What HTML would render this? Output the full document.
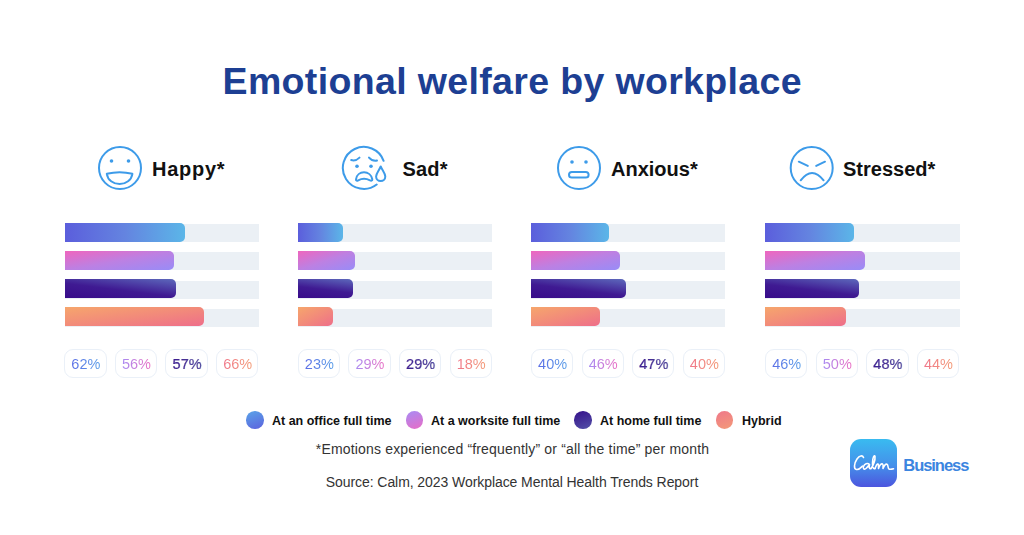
<!DOCTYPE html>
<html><head><meta charset="utf-8">
<style>
*{margin:0;padding:0;box-sizing:border-box}
html,body{width:1024px;height:535px;background:#fff;overflow:hidden}
body{position:relative;font-family:"Liberation Sans",sans-serif;}
.abs{position:absolute}
#title{left:0;width:1024.5px;top:59.4px;text-align:center;font-size:37.5px;font-weight:bold;color:#1d3f93;line-height:44px;white-space:nowrap;letter-spacing:0.35px}
.hd{font-size:20px;font-weight:bold;color:#111;line-height:24px;white-space:nowrap;top:157px}
.track{height:18.2px;width:194.3px;background:#ebf0f5}
.bar{height:19px;border-radius:0 5px 5px 0}
.b1{background:linear-gradient(90deg,#5b5edc 0%,#6484e0 50%,#5bb6e8 100%)}
.b2{background:linear-gradient(to bottom right,#ef66be 0%,#bd80e2 50%,#988cf7 100%)}
.b3{background:linear-gradient(7deg,#380c8a 0%,#3f1a92 45%,#5d69bc 100%)}
.b4{background:linear-gradient(to bottom right,#f6a66c 0%,#f28b7a 50%,#ee6e8a 100%)}
.pill{width:42.4px;height:29.4px;border:1px solid #eaf0f8;border-radius:9px;top:349px;text-align:center;font-size:14.5px;line-height:29.6px;background:#fff;padding-left:1px}
.pill span{-webkit-background-clip:text;background-clip:text;color:transparent}
.p1 span{background-image:linear-gradient(90deg,#5c6ee6,#5a9ee8)}
.p2 span{background-image:linear-gradient(90deg,#a88af2,#ea70c4)}
.p3 span{background-image:linear-gradient(90deg,#3b1a8e,#56509e);-webkit-text-stroke:0.15px #46339a}
.p4 span{background-image:linear-gradient(90deg,#f0768a,#f39a76)}
.dot{width:17.6px;height:17.6px;border-radius:50%;top:411.3px}
.lg{font-size:12.5px;font-weight:bold;color:#111;top:412.8px;line-height:16px;white-space:nowrap}
.ft{font-size:14px;color:#333;left:0;width:1024px;text-align:center;white-space:nowrap;line-height:18px}
</style></head><body>
<div id="title" class="abs">Emotional welfare by workplace</div>

<!-- icons -->
<svg class="abs" style="left:96px;top:144px" width="48" height="48" viewBox="96 144 48 48" fill="none" stroke="#3d9be9" stroke-width="2" stroke-linecap="round" stroke-linejoin="round">
<circle cx="120" cy="168" r="21"/>
<circle cx="111.5" cy="161" r="1.8" fill="#3d9be9" stroke="none"/>
<circle cx="128.5" cy="161" r="1.8" fill="#3d9be9" stroke="none"/>
<path d="M106.8 173.8 Q119.6 170.6 132.4 173.8 C131.5 180 126 184 119.6 184 C113.2 184 107.7 180 106.8 173.8 Z"/>
</svg>
<div class="abs hd" style="left:152px;letter-spacing:0.75px">Happy*</div>

<svg class="abs" style="left:340px;top:144px" width="48" height="48" viewBox="340 144 48 48" fill="none" stroke="#3d9be9" stroke-width="2" stroke-linecap="round" stroke-linejoin="round">
<path d="M383.6 160.8 A21 21 0 1 0 376.7 184.5"/>
<path d="M351.2 160 Q355.5 161.5 359.5 157.6"/>
<path d="M369 157.6 Q372.5 161.5 377 160.6"/>
<circle cx="357" cy="166.3" r="1.8" fill="#3d9be9" stroke="none"/>
<circle cx="371" cy="166.3" r="1.8" fill="#3d9be9" stroke="none"/>
<path d="M356 179.3 C356.5 175 360 172.3 364 172.3 C368 172.3 371.5 175 372.3 179.3 C372.5 180.8 371 181 370 180.3 C366 178.2 362 178.2 358.2 180.3 C357 181 355.8 180.8 356 179.3 Z"/>
<path d="M380.7 166.5 C382.5 170.5 385.3 173.5 385.3 176.5 A4.6 4.6 0 0 1 376.1 176.5 C376.1 173.5 379 170.5 380.7 166.5 Z"/>
</svg>
<div class="abs hd" style="left:402.5px;letter-spacing:0.2px">Sad*</div>

<svg class="abs" style="left:555px;top:144px" width="48" height="48" viewBox="555 144 48 48" fill="none" stroke="#3d9be9" stroke-width="2" stroke-linecap="round" stroke-linejoin="round">
<circle cx="579" cy="168" r="21"/>
<circle cx="572" cy="162" r="1.8" fill="#3d9be9" stroke="none"/>
<circle cx="586" cy="162" r="1.8" fill="#3d9be9" stroke="none"/>
<rect x="569" y="171.9" width="19.6" height="5.7" rx="2.85"/>
</svg>
<div class="abs hd" style="left:611px">Anxious*</div>

<svg class="abs" style="left:788px;top:144px" width="48" height="48" viewBox="788 144 48 48" fill="none" stroke="#3d9be9" stroke-width="2" stroke-linecap="round" stroke-linejoin="round">
<circle cx="811.7" cy="168" r="21"/>
<path d="M798.8 161.7 L807.8 165.9"/>
<path d="M816.2 165.9 L825 161.7"/>
<path d="M800.7 180.3 Q812 165.5 823.6 180.3"/>
</svg>
<div class="abs hd" style="left:843px">Stressed*</div>

<!-- panels -->
<div class="abs track" style="left:64.5px;top:224px"></div>
<div class="abs bar b1" style="left:64.5px;top:222.5px;width:120.5px"></div>
<div class="abs track" style="left:64.5px;top:252px"></div>
<div class="abs bar b2" style="left:64.5px;top:250.5px;width:109px"></div>
<div class="abs track" style="left:64.5px;top:280.8px"></div>
<div class="abs bar b3" style="left:64.5px;top:279.3px;width:111.5px"></div>
<div class="abs track" style="left:64.5px;top:308.8px"></div>
<div class="abs bar b4" style="left:64.5px;top:307.3px;width:139px"></div>
<div class="abs pill p1" style="left:64.2px"><span>62%</span></div>
<div class="abs pill p2" style="left:114.8px"><span>56%</span></div>
<div class="abs pill p3" style="left:165.4px"><span>57%</span></div>
<div class="abs pill p4" style="left:216px"><span>66%</span></div>
<div class="abs track" style="left:298px;top:224px"></div>
<div class="abs bar b1" style="left:298px;top:222.5px;width:45px"></div>
<div class="abs track" style="left:298px;top:252px"></div>
<div class="abs bar b2" style="left:298px;top:250.5px;width:56.6px"></div>
<div class="abs track" style="left:298px;top:280.8px"></div>
<div class="abs bar b3" style="left:298px;top:279.3px;width:55.2px"></div>
<div class="abs track" style="left:298px;top:308.8px"></div>
<div class="abs bar b4" style="left:298px;top:307.3px;width:35px"></div>
<div class="abs pill p1" style="left:297.7px"><span>23%</span></div>
<div class="abs pill p2" style="left:348.3px"><span>29%</span></div>
<div class="abs pill p3" style="left:398.9px"><span>29%</span></div>
<div class="abs pill p4" style="left:449.5px"><span>18%</span></div>
<div class="abs track" style="left:531.2px;top:224px"></div>
<div class="abs bar b1" style="left:531.2px;top:222.5px;width:77.8px"></div>
<div class="abs track" style="left:531.2px;top:252px"></div>
<div class="abs bar b2" style="left:531.2px;top:250.5px;width:89.2px"></div>
<div class="abs track" style="left:531.2px;top:280.8px"></div>
<div class="abs bar b3" style="left:531.2px;top:279.3px;width:95.1px"></div>
<div class="abs track" style="left:531.2px;top:308.8px"></div>
<div class="abs bar b4" style="left:531.2px;top:307.3px;width:68.8px"></div>
<div class="abs pill p1" style="left:530.9px"><span>40%</span></div>
<div class="abs pill p2" style="left:581.5px"><span>46%</span></div>
<div class="abs pill p3" style="left:632.1px"><span>47%</span></div>
<div class="abs pill p4" style="left:682.7px"><span>40%</span></div>
<div class="abs track" style="left:765.3px;top:224px"></div>
<div class="abs bar b1" style="left:765.3px;top:222.5px;width:89.2px"></div>
<div class="abs track" style="left:765.3px;top:252px"></div>
<div class="abs bar b2" style="left:765.3px;top:250.5px;width:99.6px"></div>
<div class="abs track" style="left:765.3px;top:280.8px"></div>
<div class="abs bar b3" style="left:765.3px;top:279.3px;width:93.5px"></div>
<div class="abs track" style="left:765.3px;top:308.8px"></div>
<div class="abs bar b4" style="left:765.3px;top:307.3px;width:80.5px"></div>
<div class="abs pill p1" style="left:765px"><span>46%</span></div>
<div class="abs pill p2" style="left:815.6px"><span>50%</span></div>
<div class="abs pill p3" style="left:866.2px"><span>48%</span></div>
<div class="abs pill p4" style="left:916.8px"><span>44%</span></div>


<!-- legend -->
<div class="abs dot" style="left:246.3px;background:linear-gradient(160deg,#5aa4e8,#5c62de)"></div>
<div class="abs lg" style="left:272px">At an office full time</div>
<div class="abs dot" style="left:405.5px;background:linear-gradient(160deg,#a88cf4,#e86cc6)"></div>
<div class="abs lg" style="left:431px">At a worksite full time</div>
<div class="abs dot" style="left:574px;background:linear-gradient(160deg,#35108a,#5452a8)"></div>
<div class="abs lg" style="left:600px">At home full time</div>
<div class="abs dot" style="left:715.5px;background:linear-gradient(160deg,#ef788a,#f39a78)"></div>
<div class="abs lg" style="left:742px">Hybrid</div>

<div class="abs ft" style="top:439.6px;letter-spacing:0.17px;left:0.5px">*Emotions experienced “frequently” or “all the time” per month</div>
<div class="abs ft" style="top:472.7px;letter-spacing:-0.07px">Source: Calm, 2023 Workplace Mental Health Trends Report</div>

<!-- logo -->
<div class="abs" style="left:850px;top:439px;width:47px;height:48px;border-radius:11px;background:linear-gradient(180deg,#39bbf0 0%,#4590ea 55%,#4c55de 100%)"></div>
<svg class="abs" style="left:850px;top:439px" width="47" height="48" viewBox="0 0 47 48" fill="none" stroke="#fff" stroke-width="1.6" stroke-linecap="round" stroke-linejoin="round">
<path d="M13.5 18.5 C12.5 16 9.5 16.5 7 20 C4 24.5 3.5 30 6.5 30.5 C9 31 11 28.5 12.5 27"/>
<path d="M19.5 25.5 C17.5 23.5 14.5 25 13.5 27.5 C12.5 30 14.5 31 16.5 29 C18 27.500 19.5 25.5 19.5 25.5 C19 28 19 30 21 29.5"/>
<path d="M21 29.500 C23 27 25.5 21 25 17.5 C24.500 15.500 22.5 18 22.5 24 C22.500 28 23 30 25 29.500"/>
<path d="M25 29.500 C26 27 26.5 25.500 27.500 25 C29 24.500 28.500 27.500 28.500 29.500 C29.500 26.500 31 24.500 32.500 25 C33.500 25.500 33 27.500 33 29.500 C34 27 35.500 24.800 37 25.200 C38.500 25.800 37.500 29 39 30 C40 30.500 42 30.200 43.500 29.800"/>
</svg>
<div class="abs" style="left:903.3px;top:454.8px;font-size:16.5px;font-weight:bold;color:#3b85e0;line-height:20px;letter-spacing:-1.05px">Business</div>

</body></html>
